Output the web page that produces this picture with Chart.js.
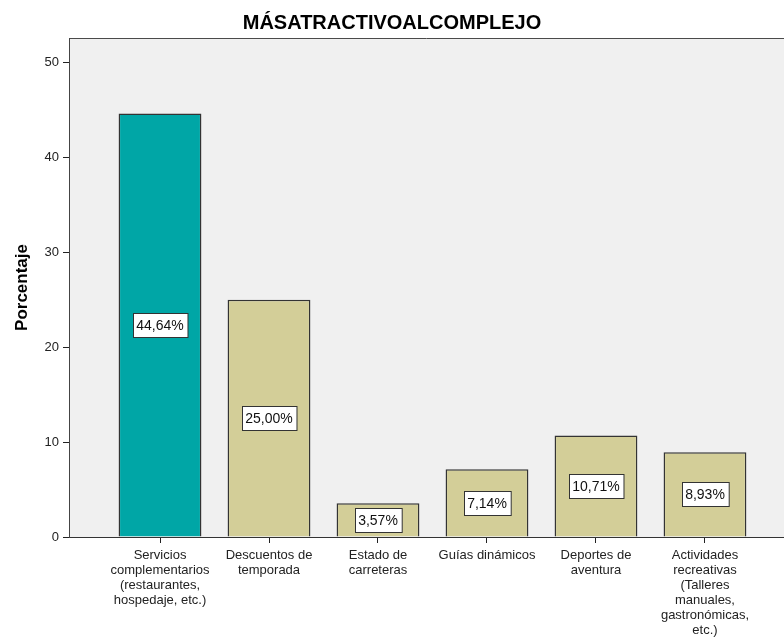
<!DOCTYPE html>
<html>
<head>
<meta charset="utf-8">
<script src="https://cdn.jsdelivr.net/npm/chart.js@4/dist/chart.umd.min.js"></script>
<style>
  html, body { margin: 0; padding: 0; background: #ffffff; }
  #wrap { width: 784px; height: 639px; }
</style>
</head>
<body>
<div id="wrap"><canvas id="masAtractivoGraph"></canvas></div>
<script>
// data
const categories = [
    ["Servicios", "complementarios", "(restaurantes,", "hospedaje, etc.)"],
    ["Descuentos de", "temporada"],
    ["Estado de", "carreteras"],
    ["Guías dinámicos"],
    ["Deportes de", "aventura"],
    ["Actividades", "recreativas", "(Talleres", "manuales,", "gastronómicas,", "etc.)"]
];
const percentages = [44.64, 25.00, 3.57, 7.14, 10.71, 8.93];
const valueLabels = ["44,64%", "25,00%", "3,57%", "7,14%", "10,71%", "8,93%"];
const yTicks = [0, 10, 20, 30, 40, 50];
const barColors = ["#00a6a6", "#d3ce98", "#d3ce98", "#d3ce98", "#d3ce98", "#d3ce98"];

const FONT = "'Liberation Sans', Arial, sans-serif";

// plot background + top frame line
const plotFrame = {
    id: "plotFrame",
    beforeDraw(chart) {
        const { ctx, chartArea: a } = chart;
        ctx.save();
        ctx.fillStyle = "#f0f0f0";
        ctx.fillRect(a.left, a.top, a.right - a.left, a.bottom - a.top);
        ctx.strokeStyle = "#4a4a4a";
        ctx.lineWidth = 1;
        ctx.beginPath();
        ctx.moveTo(a.left, a.top + 0.5);
        ctx.lineTo(a.right, a.top + 0.5);
        ctx.stroke();
        ctx.restore();
    }
};

// boxed percentage labels in the middle of each bar
const boxLabels = {
    id: "boxLabels",
    afterDatasetsDraw(chart) {
        const ctx = chart.ctx;
        const meta = chart.getDatasetMeta(0);
        ctx.save();
        ctx.font = "14px " + FONT;
        ctx.textAlign = "center";
        ctx.textBaseline = "middle";
        meta.data.forEach((bar, i) => {
            const p = bar.getProps(["x", "y", "base"], true);
            const cy = (p.y + p.base) / 2;
            const w = ctx.measureText(valueLabels[i]).width + 7;
            const h = 24;
            const x0 = Math.round(p.x - w / 2) + 0.5;
            const y0 = Math.round(cy - h / 2) + 0.5;
            ctx.fillStyle = "#ffffff";
            ctx.fillRect(x0, y0, w, h);
            ctx.strokeStyle = "#333333";
            ctx.lineWidth = 1;
            ctx.strokeRect(x0, y0, w, h);
            ctx.fillStyle = "#111111";
            ctx.fillText(valueLabels[i], p.x, cy + 1);
        });
        ctx.restore();
    }
};

function build_config() {
    return {
        type: "bar",
        data: {
            datasets: [{
                data: percentages.map((v, i) => ({ x: i, y: v })),
                backgroundColor: barColors,
                borderColor: "#333333",
                borderWidth: 1.5,
                barPercentage: 0.76,
                categoryPercentage: 1
            }]
        },
        options: {
            responsive: true,
            maintainAspectRatio: false,
            animation: false,
            layout: { padding: 0 },
            plugins: {
                legend: { display: false },
                tooltip: { enabled: false },
                title: {
                    display: true,
                    text: "MÁSATRACTIVOALCOMPLEJO",
                    color: "#000000",
                    font: { family: FONT, size: 20, weight: "bold" },
                    padding: { top: 11, bottom: 3 }
                }
            },
            scales: {
                x: {
                    type: "linear",
                    offset: false,
                    min: -0.835,
                    max: 5.725,
                    afterBuildTicks: (scale) => { scale.ticks = categories.map((c, i) => ({ value: i })); },
                    afterFit: (scale) => { scale.height = 102; },
                    ticks: {
                        autoSkip: false,
                        maxRotation: 0,
                        minRotation: 0,
                        padding: 5,
                        color: "#222222",
                        font: { family: FONT, size: 13, lineHeight: 1.15 },
                        callback: (value) => categories[value]
                    },
                    grid: { offset: false, drawOnChartArea: false, drawTicks: true, tickLength: 6, color: "#222222" },
                    border: { display: true, color: "#333333", width: 1 }
                },
                y: {
                    min: 0,
                    max: 52.6,
                    afterBuildTicks: (scale) => { scale.ticks = yTicks.map(v => ({ value: v })); },
                    afterFit: (scale) => { scale.width = 69; },
                    ticks: {
                        padding: 4,
                        color: "#222222",
                        font: { family: FONT, size: 13 }
                    },
                    grid: { drawOnChartArea: false, drawTicks: true, tickLength: 6, color: "#222222" },
                    border: { display: true, color: "#444444", width: 1 },
                    title: {
                        display: true,
                        text: "Porcentaje",
                        color: "#000000",
                        font: { family: FONT, size: 17, weight: "bold" },
                        padding: { top: 12, bottom: 4 }
                    }
                }
            }
        },
        plugins: [plotFrame, boxLabels]
    };
}

const masAtractivoGraph = new Chart("masAtractivoGraph", build_config());
</script>
</body>
</html>
